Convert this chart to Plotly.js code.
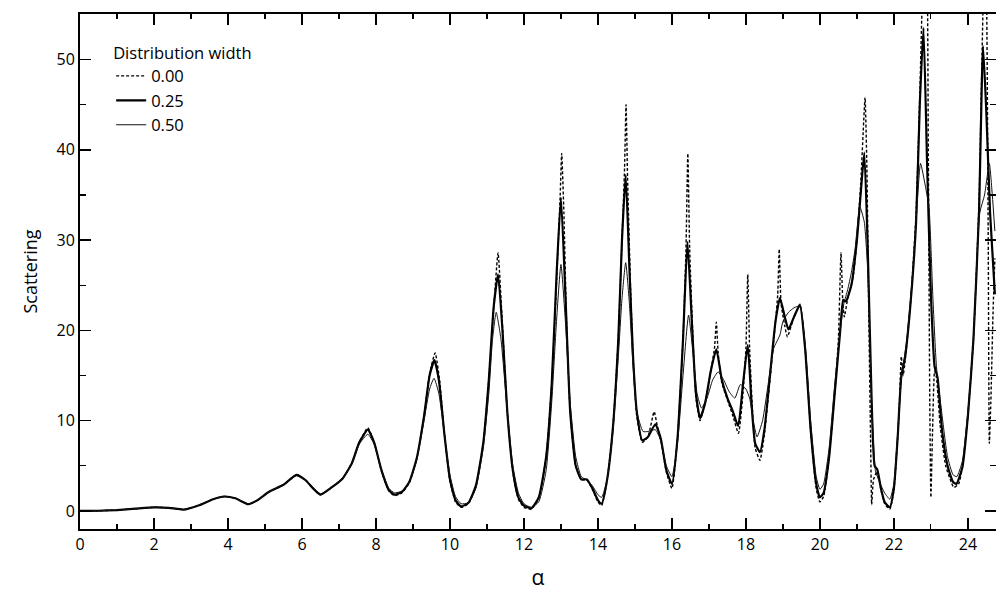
<!DOCTYPE html>
<html>
<head>
<meta charset="utf-8">
<script src="https://cdn.plot.ly/plotly-3.0.1.min.js"></script>
<style>html,body{margin:0;padding:0;background:#fff;}#chart{width:996px;height:595px;}</style>
</head>
<body>
<div id="chart"></div>
<script>
// Series: distribution width 0.00 (dashed)
const x00 = [0,0.5,1,1.5,2,2.4,2.8,3.2,3.6,3.9,4.2,4.55,4.8,5.1,5.5,5.85,6.1,6.3,6.5,6.8,7.1,7.35,7.55,7.78,7.95,8.15,8.35,8.5,8.7,8.9,9.1,9.3,9.45,9.6,9.72,9.85,10.0,10.15,10.3,10.5,10.7,10.9,11.05,11.2,11.3,11.4,11.55,11.7,11.85,12.0,12.2,12.4,12.6,12.75,12.9,12.98,13.02,13.08,13.15,13.25,13.4,13.55,13.7,13.85,14.0,14.1,14.25,14.4,14.55,14.65,14.72,14.76,14.8,14.88,14.95,15.05,15.2,15.35,15.52,15.6,15.7,15.85,16.0,16.15,16.3,16.38,16.43,16.48,16.58,16.65,16.76,16.9,17.05,17.15,17.2,17.25,17.35,17.5,17.65,17.8,17.92,18.0,18.05,18.1,18.18,18.25,18.38,18.5,18.65,18.8,18.86,18.9,18.95,19.05,19.12,19.3,19.46,19.6,19.75,19.9,20.0,20.1,20.25,20.4,20.5,20.57,20.62,20.66,20.75,20.9,21.0,21.1,21.17,21.22,21.27,21.32,21.37,21.4,21.45,21.55,21.65,21.75,21.89,22.0,22.1,22.15,22.2,22.25,22.3,22.45,22.6,22.7,22.8,22.88,22.93,22.97,23.0,23.04,23.1,23.15,23.25,23.4,23.55,23.62,23.75,23.85,24.0,24.15,24.3,24.38,24.45,24.5,24.55,24.58,24.62,24.68,24.73];
const y00 = [0,0.02,0.1,0.25,0.4,0.35,0.15,0.6,1.3,1.6,1.4,0.75,1.2,2.1,2.9,4.0,3.4,2.5,1.8,2.6,3.6,5.3,7.6,9.2,7.6,4.4,2.2,1.7,2.0,3.1,5.8,10.5,15.2,17.5,14.5,8.5,3.3,1.0,0.4,0.8,2.7,7.5,14.5,23.5,28.6,22,11,4.3,1.3,0.4,0.2,1.4,6,14,27,35,39.6,33,21,11,5.0,3.5,3.4,2.4,1.0,0.6,3.5,9,19,30,38,45,37,25,17,10.5,7.6,8.2,11.0,9.5,7.8,4.3,2.5,8,19,29,39.6,29,18,12.5,10.0,12,15.5,18,20.9,17.5,14.2,12.3,10.5,8.6,13,18,26.2,18,11,7.0,5.6,8.5,14.5,21,24,29,23,20.5,19.3,21.5,22.9,18,9,2.5,1.0,1.6,6,13,19,28.6,23,21.5,23.5,26,30,36,42,45.8,38,22,8,0.7,3.5,4.4,2.3,0.8,0.2,2.3,8,12,17.1,15,16.5,23,33,46,60,62,40,12,1.5,8,15.5,14.8,9.5,5,3.2,2.6,3.0,4.8,10.5,19,34,50,62,58,30,7.5,12,22,28];

// Series: distribution width 0.25 (thick solid)
const x25 = [0,0.5,1,1.5,2,2.4,2.8,3.2,3.6,3.9,4.2,4.55,4.8,5.1,5.5,5.85,6.1,6.3,6.5,6.8,7.1,7.35,7.55,7.78,7.95,8.15,8.35,8.5,8.7,8.9,9.1,9.3,9.45,9.58,9.7,9.85,10.0,10.15,10.3,10.5,10.7,10.9,11.05,11.18,11.3,11.42,11.55,11.7,11.85,12.0,12.2,12.4,12.6,12.75,12.88,13.0,13.12,13.25,13.4,13.55,13.7,13.85,14.0,14.1,14.25,14.4,14.55,14.65,14.75,14.85,14.95,15.05,15.2,15.35,15.55,15.7,15.85,16.0,16.15,16.3,16.42,16.55,16.65,16.76,16.9,17.05,17.2,17.35,17.5,17.65,17.79,17.92,18.05,18.15,18.25,18.38,18.5,18.65,18.8,18.92,19.05,19.15,19.3,19.46,19.6,19.75,19.9,20.0,20.1,20.25,20.4,20.55,20.63,20.7,20.85,21.0,21.1,21.2,21.3,21.4,21.48,21.55,21.65,21.75,21.89,22.0,22.1,22.2,22.3,22.45,22.6,22.7,22.8,22.9,23.0,23.1,23.18,23.3,23.45,23.6,23.69,23.85,24.0,24.15,24.3,24.41,24.5,24.6,24.73];
const y25 = [0,0.02,0.1,0.25,0.4,0.35,0.15,0.6,1.3,1.6,1.4,0.75,1.2,2.1,2.9,4.0,3.4,2.5,1.8,2.6,3.6,5.3,7.6,9.0,7.6,4.5,2.3,1.8,2.1,3.2,5.8,10.5,15.0,16.7,14.5,8.5,3.5,1.2,0.5,0.9,2.8,7.5,14.5,22.5,26.2,20,11,4.5,1.5,0.6,0.3,1.5,6,14,26,34.7,24,11,5.0,3.5,3.5,2.5,1.2,0.8,3.5,9,19,30,37.2,27,17,11,7.8,8.2,9.6,8,4.5,3.0,8,19,29.8,20,13,10.3,12,15.5,17.9,14.5,12.5,11,9.4,14,18.4,12,7.5,6.5,9,15,21,23.6,21.5,20.1,21.5,22.8,18,9,3,1.5,2.0,6,13,20,23.4,23.2,25,30,35,39.7,28,12,5,4.6,2.5,1.0,0.4,2.5,8,14.9,17,23,32,45,53.5,38,24,16,14.8,9,5,3.2,3.0,4.8,10.5,19,33,51.5,44,33,24];

// Series: distribution width 0.50 (thin solid)
const x50 = [0,0.5,1,1.5,2,2.4,2.8,3.2,3.6,3.9,4.2,4.55,4.8,5.1,5.5,5.85,6.1,6.3,6.5,6.8,7.1,7.35,7.55,7.78,7.95,8.15,8.35,8.5,8.7,8.9,9.1,9.3,9.45,9.57,9.7,9.85,10.0,10.15,10.3,10.5,10.7,10.9,11.05,11.15,11.25,11.38,11.55,11.7,11.85,12.0,12.2,12.4,12.6,12.75,12.88,13.0,13.12,13.25,13.4,13.55,13.7,13.85,14.0,14.1,14.25,14.4,14.55,14.65,14.75,14.85,14.95,15.05,15.22,15.35,15.55,15.7,15.85,16.0,16.15,16.3,16.45,16.58,16.68,16.8,16.95,17.1,17.25,17.4,17.55,17.7,17.85,18.0,18.1,18.2,18.3,18.45,18.6,18.75,18.92,19.0,19.15,19.3,19.46,19.6,19.75,19.9,20.0,20.1,20.25,20.4,20.55,20.65,20.75,20.85,20.95,21.08,21.2,21.3,21.4,21.5,21.6,21.75,21.89,22.0,22.1,22.2,22.35,22.5,22.6,22.72,22.85,22.95,23.05,23.15,23.29,23.45,23.6,23.7,23.85,24.0,24.15,24.32,24.45,24.58,24.66,24.73];
const y50 = [0,0.02,0.1,0.25,0.4,0.35,0.15,0.6,1.3,1.6,1.4,0.8,1.2,2.1,2.9,3.9,3.4,2.6,1.9,2.6,3.6,5.2,7.4,8.5,7.4,4.6,2.5,2.0,2.2,3.2,5.6,10,13.5,14.7,13,8.5,4,1.6,0.8,0.9,2.5,7,13,19,22,19,11,5,2,0.8,0.4,1.0,4.5,12,21,27.3,21,12,6,3.8,3.4,2.8,1.8,1.5,3.5,8.5,17,23.5,27.5,23,16,11,8.8,8.8,9.0,7.8,5,3.8,7.5,15,21.7,17,13,11.4,12.5,14.5,15.4,14.5,13.2,12.5,14.0,13.5,12.5,10,8.2,10,14,18,19.5,21,22,22.5,22.7,18.5,10,3.8,2.4,3,7,14,20,23,24.5,26.4,29,33.7,32,26,12,4.5,3.3,2.0,1.3,3,8.5,14.5,19,26,32,38.5,36,33.6,24,16,11,6,4,3.8,5.5,11,19,33,35,38.5,35,31];

const names = ['0.00','0.25','0.50'];
const legendTitle = 'Distribution width';
const xTitle = 'α';
const yTitle = 'Scattering';

const FONT = 'Open Sans, Noto Sans, sans-serif';

const traces = [
  {x:x00, y:y00, name:names[0], mode:'lines', line:{color:'#000', width:1.4, dash:'3px,2px', shape:'spline', smoothing:0.5}},
  {x:x25, y:y25, name:names[1], mode:'lines', line:{color:'#000', width:2.2, shape:'spline', smoothing:0.5}},
  {x:x50, y:y50, name:names[2], mode:'lines', line:{color:'#111', width:1, shape:'spline', smoothing:0.5}}
];

const axisCommon = {
  showline:true, linecolor:'#000', linewidth:2, mirror:'ticks',
  ticks:'inside', ticklen:11, tickwidth:1.5, tickcolor:'#000',
  showgrid:false, zeroline:false,
  tickfont:{family:FONT, size:16, color:'#000'}
};

const layout = {
  width:996, height:595,
  margin:{l:80, r:0, t:14, b:66},
  paper_bgcolor:'#fff', plot_bgcolor:'#fff',
  font:{family:FONT, color:'#000'},
  xaxis:Object.assign({}, axisCommon, {
    range:[0, 24.76], tick0:0, dtick:2,
    minor:{dtick:1, ticks:'inside', ticklen:5, tickwidth:1.2, tickcolor:'#000'},
    title:{text:xTitle, font:{family:FONT, size:21, color:'#000'}, standoff:16}
  }),
  yaxis:Object.assign({}, axisCommon, {
    range:[-2, 55.05], tick0:0, dtick:10,
    minor:{dtick:5, ticks:'inside', ticklen:6, tickwidth:1.2, tickcolor:'#000'},
    title:{text:yTitle, font:{family:FONT, size:18, color:'#000'}, standoff:14}
  }),
  showlegend:true,
  legend:{
    title:{text:legendTitle, font:{family:FONT, size:16.5, color:'#000'}},
    font:{family:FONT, size:16.5, color:'#000'},
    x:0.034, y:0.955, xanchor:'left', yanchor:'top',
    bgcolor:'rgba(0,0,0,0)', itemwidth:30, tracegroupgap:0
  }
};

Plotly.newPlot('chart', traces, layout, {displayModeBar:false, staticPlot:true});
</script>
</body>
</html>
